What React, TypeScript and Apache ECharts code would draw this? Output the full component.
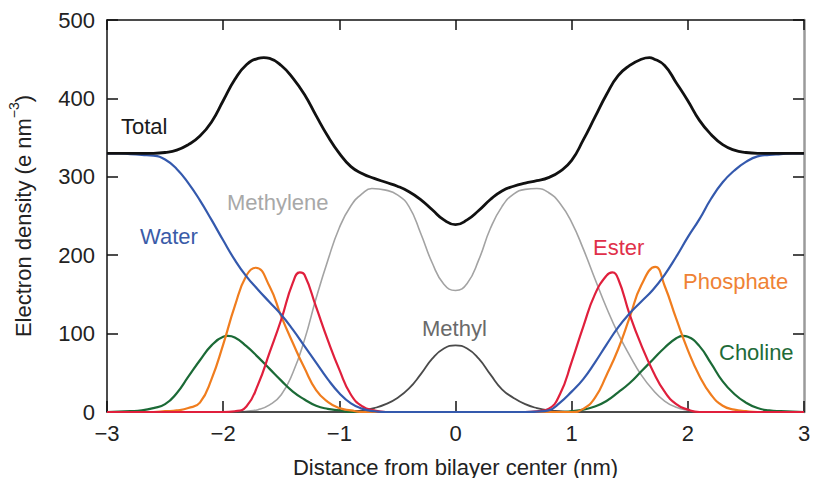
import React, { useEffect, useRef } from "react";
import * as echarts from "echarts";

const FONT = '"Liberation Sans", Arial, Helvetica, sans-serif';

const xTicks = [-3, -2, -1, 0, 1, 2, 3];
const yTicks = [0, 100, 200, 300, 400, 500];

const totalPts = [
  [-3, 330], [-2.9, 330], [-2.8, 330], [-2.7, 330], [-2.6, 330], [-2.5, 331], [-2.4, 334], [-2.3, 341],
  [-2.2, 352], [-2.1, 370], [-2.0, 397], [-1.9, 424], [-1.8, 443], [-1.7, 451], [-1.65, 452], [-1.6, 451],
  [-1.5, 442], [-1.4, 426], [-1.3, 405], [-1.2, 378], [-1.1, 352], [-1.0, 330], [-0.9, 313], [-0.8, 304],
  [-0.7, 298], [-0.6, 293], [-0.5, 288], [-0.4, 281], [-0.3, 271], [-0.2, 258], [-0.1, 245], [0, 239],
  [0.1, 245], [0.2, 257], [0.3, 271], [0.4, 282], [0.5, 288], [0.6, 292], [0.7, 295], [0.8, 299],
  [0.9, 307], [1.0, 321], [1.1, 347], [1.2, 376], [1.3, 405], [1.4, 429], [1.5, 442], [1.6, 450],
  [1.67, 452], [1.7, 451], [1.8, 442], [1.9, 420], [2.0, 397], [2.1, 372], [2.2, 354], [2.3, 341],
  [2.4, 334], [2.5, 331], [2.6, 330], [2.7, 330], [2.8, 330], [2.9, 330], [3.0, 330],
];

const waterPts = [
  [-3, 330], [-2.9, 330], [-2.8, 329], [-2.7, 328], [-2.6, 327], [-2.5, 322], [-2.4, 310], [-2.3, 292],
  [-2.2, 270], [-2.1, 245], [-2.0, 219], [-1.9, 194], [-1.8, 173], [-1.7, 156], [-1.6, 140], [-1.5, 124],
  [-1.4, 105], [-1.3, 84], [-1.2, 63], [-1.1, 42], [-1.0, 24], [-0.9, 11], [-0.8, 4], [-0.7, 1],
  [-0.6, 0], [0, 0], [0.6, 0], [0.7, 0.5], [0.8, 2], [0.9, 12], [1.0, 26], [1.1, 42], [1.2, 63],
  [1.3, 86], [1.4, 108], [1.5, 126], [1.6, 141], [1.7, 156], [1.8, 175], [1.9, 198], [2.0, 223],
  [2.1, 246], [2.2, 272], [2.3, 293], [2.4, 308], [2.5, 319], [2.6, 326], [2.7, 328], [2.8, 329],
  [2.9, 330], [3.0, 330],
];

const methylenePts = [
  [-3, 0], [-1.9, 0], [-1.8, 1], [-1.7, 3], [-1.6, 9], [-1.5, 22], [-1.4, 50], [-1.3, 92], [-1.2, 145],
  [-1.1, 193], [-1.0, 235], [-0.9, 263], [-0.8, 279], [-0.72, 285], [-0.6, 283], [-0.5, 277], [-0.4, 262],
  [-0.3, 228], [-0.2, 190], [-0.1, 163], [0, 155], [0.1, 164], [0.2, 194], [0.3, 234], [0.4, 262],
  [0.5, 278], [0.6, 284], [0.7, 285], [0.8, 280], [0.9, 266], [1.0, 242], [1.1, 208], [1.2, 170],
  [1.3, 133], [1.4, 100], [1.5, 72], [1.6, 47], [1.7, 28], [1.8, 14], [1.9, 6], [2.0, 2], [2.1, 0], [3, 0],
];

const methylPts = [
  [-3, 0], [-1.0, 0], [-0.9, 1], [-0.8, 2], [-0.7, 5], [-0.6, 10], [-0.5, 18], [-0.4, 30], [-0.3, 48],
  [-0.2, 68], [-0.1, 81], [0, 85], [0.1, 81], [0.2, 68], [0.3, 48], [0.4, 29], [0.5, 18], [0.6, 10],
  [0.7, 5], [0.8, 2], [0.9, 1], [1.0, 0], [3, 0],
];

const esterPts = [
  [-3, 0], [-2.0, 0], [-1.9, 1], [-1.8, 7], [-1.7, 35], [-1.6, 76], [-1.5, 118], [-1.4, 165], [-1.34, 178],
  [-1.3, 175], [-1.2, 134], [-1.1, 92], [-1.0, 54], [-0.9, 22], [-0.8, 7], [-0.7, 2], [-0.6, 0], [0.6, 0],
  [0.7, 1], [0.8, 4], [0.9, 23], [1.0, 64], [1.1, 109], [1.2, 150], [1.3, 174], [1.35, 178], [1.4, 170],
  [1.5, 124], [1.6, 85], [1.7, 52], [1.8, 26], [1.9, 10], [2.0, 3], [2.1, 0], [3, 0],
];

const phosphatePts = [
  [-3, 0], [-2.6, 0], [-2.5, 1], [-2.4, 2], [-2.3, 5], [-2.2, 12], [-2.1, 42], [-2.0, 86], [-1.9, 135],
  [-1.8, 174], [-1.72, 184], [-1.6, 160], [-1.5, 122], [-1.4, 88], [-1.3, 56], [-1.2, 28], [-1.1, 13],
  [-1.0, 5], [-0.9, 2], [-0.8, 0], [1.0, 0], [1.1, 4], [1.2, 18], [1.3, 47], [1.4, 80], [1.5, 121],
  [1.6, 162], [1.72, 185], [1.8, 161], [1.9, 119], [2.0, 79], [2.1, 46], [2.2, 22], [2.3, 8], [2.4, 3],
  [2.5, 1], [2.6, 0], [3, 0],
];

const cholinePts = [
  [-3, 0], [-2.8, 1], [-2.7, 2], [-2.6, 5], [-2.5, 10], [-2.4, 24], [-2.3, 45], [-2.2, 66], [-2.1, 85],
  [-2.0, 96], [-1.96, 97], [-1.9, 95], [-1.8, 84], [-1.7, 70], [-1.6, 55], [-1.5, 40], [-1.4, 26],
  [-1.3, 16], [-1.2, 8], [-1.1, 4], [-1.0, 2], [-0.9, 0], [0.9, 0], [1.0, 1], [1.1, 3], [1.2, 7],
  [1.3, 14], [1.4, 25], [1.5, 37], [1.6, 52], [1.7, 67], [1.8, 82], [1.9, 94], [1.96, 97], [2.0, 96],
  [2.1, 84], [2.2, 62], [2.3, 39], [2.4, 23], [2.5, 12], [2.6, 5], [2.7, 2], [2.8, 1], [3, 0],
];

const seriesNames = ["Methylene", "Methyl", "Choline", "Phosphate", "Ester", "Water", "Total"];

export default function App() {
  const ref = useRef<HTMLDivElement>(null);

  useEffect(() => {
    document.body.style.margin = "0";
    if (!ref.current) return;
    const chart = echarts.init(ref.current, null, { renderer: "svg" });

    const line = (name: string, data: number[][], color: string, width: number, z: number) => ({
      name,
      type: "line",
      data,
      smooth: 0.5,
      showSymbol: false,
      symbol: "none",
      z,
      lineStyle: { color, width },
      itemStyle: { color },
    });

    const fmt = (v: number) => String(v).replace("-", "\u2212");

    const label = (text: string, x: number, y: number, fill: string) => ({
      type: "text",
      x,
      y,
      z: 100,
      style: {
        text,
        fill,
        fontSize: 22,
        fontFamily: FONT,
        align: "left",
        verticalAlign: "middle",
      },
    });

    const tickStyle = { color: "#111", width: 1.5 };

    chart.setOption({
      animation: false,
      backgroundColor: "#ffffff",
      grid: { left: 107, right: 9, top: 20, bottom: 66, outerBoundsMode: "none" },
      xAxis: [
        {
          type: "value",
          min: xTicks[0],
          max: xTicks[xTicks.length - 1],
          interval: 1,
          position: "bottom",
          name: "Distance from bilayer center (nm)",
          nameLocation: "middle",
          nameGap: 44,
          nameTextStyle: { fontSize: 22, fontFamily: FONT, color: "#222" },
          axisLine: { show: true, onZero: false, lineStyle: { color: "#111", width: 1.5 } },
          axisTick: { show: true, inside: true, length: 11, lineStyle: tickStyle },
          axisLabel: { fontSize: 22, fontFamily: FONT, color: "#222", margin: 10, formatter: fmt },
          splitLine: { show: false },
        },
        {
          type: "value",
          min: xTicks[0],
          max: xTicks[xTicks.length - 1],
          interval: 1,
          position: "top",
          axisLine: { show: true, onZero: false, lineStyle: { color: "#111", width: 1.5 } },
          axisTick: { show: true, inside: true, length: 10, lineStyle: tickStyle },
          axisLabel: { show: false },
          splitLine: { show: false },
        },
      ],
      yAxis: [
        {
          type: "value",
          min: yTicks[0],
          max: yTicks[yTicks.length - 1],
          interval: 100,
          position: "left",
          name: "{a|Electron density (e nm}{s|\u22123}{a|)}",
          nameLocation: "middle",
          nameGap: 73,
          nameRotate: 90,
          nameTextStyle: {
            fontSize: 22,
            fontFamily: FONT,
            color: "#222",
            rich: {
              a: { fontSize: 22, fontFamily: FONT, color: "#222", lineHeight: 27, verticalAlign: "bottom" },
              s: { fontSize: 14, fontFamily: FONT, color: "#222", lineHeight: 15, verticalAlign: "top" },
            },
          },
          axisLine: { show: true, onZero: false, lineStyle: { color: "#111", width: 1.5 } },
          axisTick: { show: true, inside: true, length: 11, lineStyle: tickStyle },
          axisLabel: { fontSize: 22, fontFamily: FONT, color: "#222", margin: 12 },
          splitLine: { show: false },
        },
        {
          type: "value",
          min: yTicks[0],
          max: yTicks[yTicks.length - 1],
          interval: 100,
          position: "right",
          axisLine: { show: true, onZero: false, lineStyle: { color: "#9a9a9a", width: 2.5 } },
          axisTick: { show: true, inside: true, length: 11, lineStyle: tickStyle },
          axisLabel: { show: false },
          splitLine: { show: false },
        },
      ],
      series: [
        line(seriesNames[0], methylenePts, "#a3a3a3", 1.6, 2),
        line(seriesNames[1], methylPts, "#4a4a4a", 1.8, 3),
        line(seriesNames[2], cholinePts, "#1b6a36", 2.2, 4),
        line(seriesNames[3], phosphatePts, "#f07d1e", 2.2, 5),
        line(seriesNames[4], esterPts, "#e01f3c", 2.2, 6),
        line(seriesNames[5], waterPts, "#3459ad", 2.2, 7),
        line(seriesNames[6], totalPts, "#111111", 2.8, 8),
      ],
      graphic: [
        label("Total", 121, 126, "#1a1a1a"),
        label("Water", 140, 236, "#3a5ba8"),
        label("Methylene", 227, 202, "#a8a8a8"),
        label("Ester", 593, 247, "#e0304a"),
        label("Phosphate", 683, 281, "#ef8235"),
        label("Methyl", 422, 328, "#6a6a6a"),
        label("Choline", 719, 352, "#1e6b38"),
      ],
    });

    return () => chart.dispose();
  }, []);

  return <div ref={ref} style={{ width: 813, height: 478 }} />;
}
